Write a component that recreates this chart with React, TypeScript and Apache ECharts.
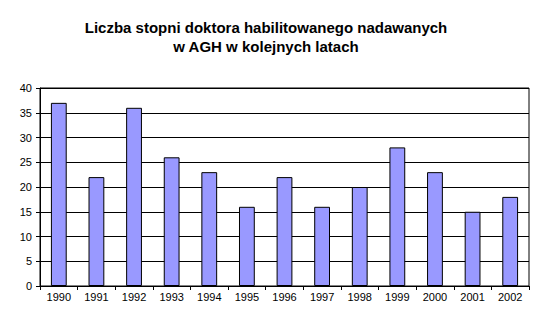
import React, { useEffect, useRef } from "react";
import * as echarts from "echarts";

const titleLines = ["Liczba stopni doktora habilitowanego nadawanych", "w AGH w kolejnych latach"];
const years = ["1990", "1991", "1992", "1993", "1994", "1995", "1996", "1997", "1998", "1999", "2000", "2001", "2002"];
const counts = [37, 22, 36, 26, 23, 16, 22, 16, 20, 28, 23, 15, 18];

export default function App() {
  const ref = useRef<HTMLDivElement>(null);
  useEffect(() => {
    if (!ref.current) return;
    const chart = echarts.init(ref.current, null, { renderer: "svg" });
    const font = "Arial, 'Liberation Sans', sans-serif";
    chart.setOption({
      animation: false,
      backgroundColor: "#fff",
      textStyle: { fontFamily: font },
      title: {
        text: titleLines.join("\n"),
        left: 261,
        top: 13,
        textAlign: "center",
        textStyle: { fontSize: 15, fontWeight: "bold", color: "#000", lineHeight: 19, fontFamily: font },
      },
      grid: {
        left: 40,
        right: 15,
        top: 88,
        bottom: 44,
        show: true,
        borderColor: "#000",
        borderWidth: 1,
        containLabel: false,
      },
      xAxis: {
        type: "category",
        data: years,
        axisLine: { lineStyle: { color: "#000", width: 1 } },
        axisTick: { show: true, length: 4, lineStyle: { color: "#000" } },
        axisLabel: { color: "#000", fontSize: 11, margin: 5, interval: 0, fontFamily: font },
      },
      yAxis: {
        type: "value",
        min: 0,
        max: 40,
        interval: 5,
        axisLine: { show: true, lineStyle: { color: "#000", width: 1 } },
        axisTick: { show: true, length: 4, lineStyle: { color: "#000" } },
        axisLabel: { color: "#000", fontSize: 11, margin: 8, fontFamily: font },
        splitLine: { show: true, lineStyle: { color: "#000", width: 1 } },
      },
      series: [
        {
          type: "bar",
          data: counts,
          barWidth: "42%",
          itemStyle: { color: "#9999FF", borderColor: "#000", borderWidth: 1 },
        },
      ],
    });
    return () => chart.dispose();
  }, []);
  return <div ref={ref} style={{ position: "absolute", left: 0, top: 0, width: 544, height: 330 }} />;
}
